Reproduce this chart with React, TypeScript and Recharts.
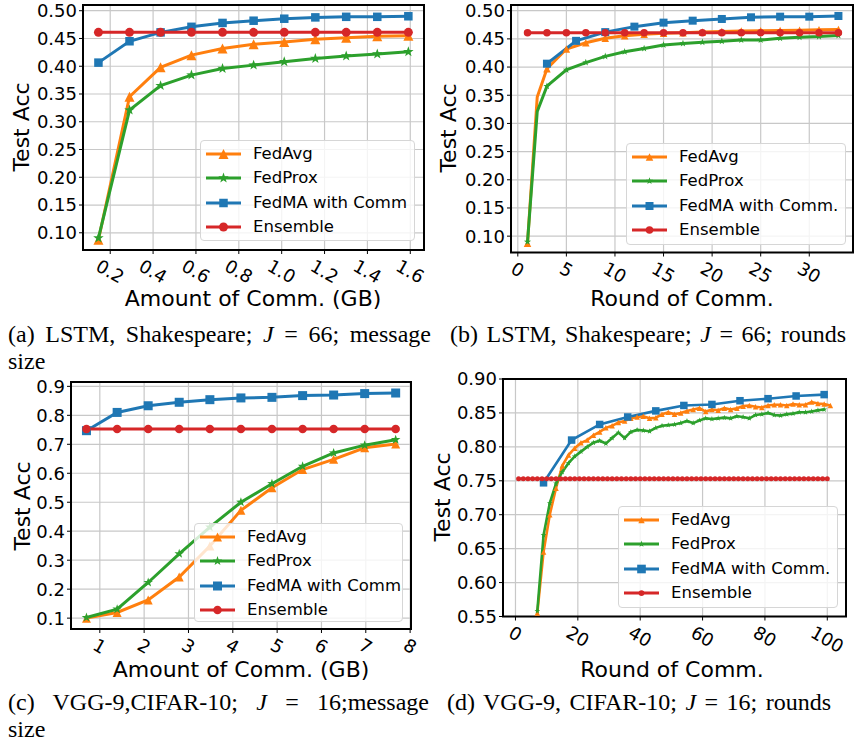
import React from 'react';
import { LineChart, Line, XAxis, YAxis, CartesianGrid, ReferenceArea, Legend } from 'recharts';

// ---------- Panel (a): LSTM, Shakespeare, message size ----------
const commGB_A = [0.145, 0.29, 0.435, 0.579, 0.724, 0.869, 1.012, 1.157, 1.301, 1.446, 1.591];
const fedAvg_A = [0.0875, 0.345, 0.398, 0.42, 0.432, 0.4395, 0.4436, 0.4484, 0.4514, 0.4538, 0.455];
const fedProx_A = [0.0905, 0.321, 0.365, 0.384, 0.396, 0.402, 0.408, 0.414, 0.4185, 0.422, 0.426];
const fedMA_A = [0.4065, 0.445, 0.461, 0.471, 0.478, 0.482, 0.4856, 0.488, 0.489, 0.489, 0.49];
const ensembleAcc_A = 0.461;
const xTicks_A = [0.2, 0.4, 0.6, 0.8, 1.0, 1.2, 1.4, 1.6];
const yTicks_A = [0.1, 0.15, 0.2, 0.25, 0.3, 0.35, 0.4, 0.45, 0.5];

// ---------- Panel (b): LSTM, Shakespeare, rounds ----------
const roundsAvgProx_B = [1, 2, 3, 5, 7, 9, 11, 13, 15, 17, 19, 21, 23, 25, 27, 29, 31, 33];
const fedAvg_B = [0.0875, 0.347, 0.397, 0.432, 0.443, 0.451, 0.4557, 0.458, 0.46, 0.461, 0.462, 0.463, 0.464, 0.4646, 0.465, 0.4655, 0.466, 0.4665];
const fedProx_B = [0.09, 0.321, 0.366, 0.395, 0.408, 0.419, 0.427, 0.433, 0.439, 0.442, 0.444, 0.446, 0.448, 0.448, 0.451, 0.453, 0.454, 0.456];
const roundsMA_B = [3, 6, 9, 12, 15, 18, 21, 24, 27, 30, 33];
const fedMA_B = [0.406, 0.4465, 0.462, 0.4717, 0.4788, 0.4823, 0.4853, 0.4883, 0.4894, 0.4894, 0.4906];
const roundsEns_B = [1, 3, 5, 7, 9, 11, 13, 15, 17, 19, 21, 23, 25, 27, 29, 31, 33];
const ensembleAcc_B = 0.461;
const xTicks_B = [0, 5, 10, 15, 20, 25, 30];
const yTicks_B = [0.1, 0.15, 0.2, 0.25, 0.3, 0.35, 0.4, 0.45, 0.5];

// ---------- Panel (c): VGG-9, CIFAR-10, message size ----------
const commGB_C = [0.699, 1.391, 2.091, 2.791, 3.483, 4.183, 4.883, 5.575, 6.275, 6.975, 7.674];
const fedAvg_C = [0.1, 0.1195, 0.163, 0.242, 0.349, 0.472, 0.55, 0.613, 0.648, 0.688, 0.701];
const fedProx_C = [0.102, 0.131, 0.223, 0.322, 0.414, 0.5, 0.564, 0.624, 0.67, 0.697, 0.716];
const fedMA_C = [0.747, 0.81, 0.833, 0.845, 0.854, 0.86, 0.862, 0.868, 0.87, 0.875, 0.877];
const ensembleAcc_C = 0.753;
const xTicks_C = [1, 2, 3, 4, 5, 6, 7, 8];
const yTicks_C = [0.1, 0.2, 0.3, 0.4, 0.5, 0.6, 0.7, 0.8, 0.9];

// ---------- Panel (d): VGG-9, CIFAR-10, rounds ----------
const roundsAvg_D = [7, 9, 11, 13, 15, 17, 19, 21, 23, 25, 27, 29, 31, 33, 35, 37, 39, 41, 43, 45, 47, 49, 51, 53, 55, 57, 59, 61, 63, 65, 67, 69, 71, 73, 75, 77, 79, 81, 83, 85, 87, 89, 91, 93, 95, 97, 99, 101];
const fedAvg_D = [0.555, 0.645, 0.7, 0.739, 0.772, 0.788, 0.798, 0.806, 0.81, 0.817, 0.822, 0.828, 0.831, 0.836, 0.838, 0.842, 0.844, 0.845, 0.842, 0.843, 0.848, 0.851, 0.848, 0.85, 0.853, 0.855, 0.857, 0.852, 0.855, 0.854, 0.857, 0.855, 0.857, 0.86, 0.861, 0.859, 0.858, 0.861, 0.862, 0.862, 0.861, 0.863, 0.862, 0.862, 0.866, 0.864, 0.863, 0.861];
const roundsProx_D = [7, 9, 11, 13, 15, 17, 19, 21, 23, 25, 27, 29, 31, 33, 35, 37, 39, 41, 43, 45, 47, 49, 51, 53, 55, 57, 59, 61, 63, 65, 67, 69, 71, 73, 75, 77, 79, 81, 83, 85, 87, 89, 91, 93, 95, 97, 99];
const fedProx_D = [0.558, 0.67, 0.717, 0.746, 0.763, 0.776, 0.786, 0.793, 0.8, 0.806, 0.809, 0.805, 0.813, 0.821, 0.813, 0.822, 0.825, 0.824, 0.823, 0.828, 0.831, 0.832, 0.833, 0.835, 0.838, 0.835, 0.839, 0.842, 0.841, 0.842, 0.843, 0.842, 0.845, 0.844, 0.842, 0.847, 0.848, 0.85, 0.847, 0.846, 0.848, 0.849, 0.851, 0.851, 0.852, 0.854, 0.855];
const roundsMA_D = [9, 18, 27, 36, 45, 54, 63, 72, 81, 90, 99];
const fedMA_D = [0.747, 0.81, 0.833, 0.844, 0.853, 0.861, 0.8625, 0.868, 0.871, 0.875, 0.877];
const roundsEns_D = [1, 2.5, 4, 5.5, 7, 8.5, 10, 11.5, 13, 14.5, 16, 17.5, 19, 20.5, 22, 23.5, 25, 26.5, 28, 29.5, 31, 32.5, 34, 35.5, 37, 38.5, 40, 41.5, 43, 44.5, 46, 47.5, 49, 50.5, 52, 53.5, 55, 56.5, 58, 59.5, 61, 62.5, 64, 65.5, 67, 68.5, 70, 71.5, 73, 74.5, 76, 77.5, 79, 80.5, 82, 83.5, 85, 86.5, 88, 89.5, 91, 92.5, 94, 95.5, 97, 98.5, 100];
const ensembleAcc_D = 0.753;
const xTicks_D = [0, 20, 40, 60, 80, 100];
const yTicks_D = [0.55, 0.6, 0.65, 0.7, 0.75, 0.8, 0.85, 0.9];

// ---------- styling ----------
const FONT = '"DejaVu Sans", Verdana, sans-serif';
const SERIF = '"Liberation Serif", "Times New Roman", serif';
const ORANGE = '#ff7f0e';
const GREEN = '#2ca02c';
const BLUE = '#1f77b4';
const RED = '#d62728';

type Shape = 'triangle' | 'star' | 'square' | 'circle';

function Marker({ shape, cx, cy, size, color }: { shape: Shape; cx: number; cy: number; size: number; color: string }) {
  const h = size / 2;
  if (shape === 'circle') return <circle cx={cx} cy={cy} r={h} fill={color} />;
  if (shape === 'square') return <rect x={cx - h} y={cy - h} width={size} height={size} fill={color} />;
  if (shape === 'triangle') {
    return <polygon points={`${cx},${cy - h} ${cx - h},${cy + h} ${cx + h},${cy + h}`} fill={color} />;
  }
  const pts: string[] = [];
  for (let i = 0; i < 10; i++) {
    const a = -Math.PI / 2 + (i * Math.PI) / 5;
    const r = i % 2 === 0 ? h : h * 0.4;
    pts.push(`${cx + r * Math.cos(a)},${cy + r * Math.sin(a)}`);
  }
  return <polygon points={pts.join(' ')} fill={color} />;
}

function zip(xs: number[], ys: number[]) {
  return xs.map((x, i) => ({ x, y: ys[i] }));
}
function flat(xs: number[], v: number) {
  return xs.map((x) => ({ x, y: v }));
}

type Series = {
  name: string;
  data: { x: number; y: number }[];
  color: string;
  shape: Shape;
  size: number;
  lw: number;
  mark?: (x: number) => boolean;
};

type PanelCfg = {
  box: { x: number; y: number; w: number; h: number };
  plot: { l: number; t: number; r: number; b: number };
  xDomain: [number, number];
  yDomain: [number, number];
  xTicks: number[];
  yTicks: number[];
  xFmt: (v: number) => string;
  yFmt: (v: number) => string;
  series: Series[];
  legend: { x: number; y: number; w: number; h: number; sizeScale: number };
};

function tickWidth(label: string) {
  let w = 0;
  for (const ch of label) w += ch === '.' ? 0.318 : 0.636;
  return w * 18 - 2;
}

function XTick(props: any) {
  const { x, y, payload, fmt } = props;
  const label = fmt(payload.value);
  const w = tickWidth(label);
  const bboxH = w * 0.5 + 13 * 0.866;
  const cy = y - 4 + 9 + bboxH / 2;
  return (
    <text
      x={x}
      y={cy}
      textAnchor="middle"
      dominantBaseline="central"
      transform={`rotate(30 ${x} ${cy})`}
      fontSize={18}
      fontFamily={FONT}
      fill="#000"
    >
      {label}
    </text>
  );
}

function LegendBox({ series, w, h, sizeScale }: { series: Series[]; w: number; h: number; sizeScale: number }) {
  return (
    <div
      style={{
        width: w,
        height: h,
        boxSizing: 'border-box',
        border: '1px solid #d6d6d6',
        borderRadius: 4,
        background: 'rgba(255,255,255,0.8)',
        position: 'relative',
        fontFamily: FONT,
        fontSize: 16.5,
        color: '#000',
      }}
    >
      {series.map((s, i) => (
        <div key={s.name} style={{ position: 'absolute', left: 0, top: 13 + i * 24.3 - 12, height: 24, width: '100%' }}>
          <svg width={46} height={24} style={{ position: 'absolute', left: 0, top: 0 }}>
            <line x1={5} x2={40} y1={12} y2={12} stroke={s.color} strokeWidth={3} />
            <Marker shape={s.shape} cx={22.5} cy={12} size={s.size * sizeScale} color={s.color} />
          </svg>
          <span style={{ position: 'absolute', left: 52, top: 0, lineHeight: '24px', whiteSpace: 'nowrap' }}>{s.name}</span>
        </div>
      ))}
    </div>
  );
}

function Panel({ cfg }: { cfg: PanelCfg }) {
  const { box, plot } = cfg;
  const yAxisW = plot.l - box.x;
  const xAxisH = box.y + box.h - plot.b;
  const margin = { top: plot.t - box.y, right: box.x + box.w - plot.r, left: 0, bottom: 0 };
  return (
    <div style={{ position: 'absolute', left: box.x, top: box.y, width: box.w, height: box.h }}>
      <LineChart width={box.w} height={box.h} margin={margin}>
        <CartesianGrid stroke="#c8c8c8" strokeWidth={1.2} />
        <XAxis
          type="number"
          dataKey="x"
          domain={cfg.xDomain}
          allowDataOverflow
          ticks={cfg.xTicks}
          interval={0}
          height={xAxisH}
          axisLine={false}
          tickLine={{ stroke: '#000' }}
          tickSize={4}
          tickMargin={0}
          tick={(p: any) => <XTick {...p} fmt={cfg.xFmt} />}
        />
        <YAxis
          type="number"
          domain={cfg.yDomain}
          allowDataOverflow
          ticks={cfg.yTicks}
          interval={0}
          width={yAxisW}
          axisLine={false}
          tickLine={{ stroke: '#000' }}
          tickSize={4}
          tickMargin={2}
          tickFormatter={cfg.yFmt}
          tick={{ fontSize: 18, fill: '#000', fontFamily: FONT }}
        />
        {cfg.series.map((s) => (
          <Line
            key={s.name}
            name={s.name}
            data={s.data}
            dataKey="y"
            type="linear"
            stroke={s.color}
            strokeWidth={s.lw}
            isAnimationActive={false}
            activeDot={false}
            dot={(p: any) => {
              if (s.mark && !s.mark(p.payload.x)) return <g key={p.key ?? p.index} />;
              return (
                <g key={p.key ?? p.index}>
                  <Marker shape={s.shape} cx={p.cx} cy={p.cy} size={s.size} color={s.color} />
                </g>
              );
            }}
          />
        ))}
        <ReferenceArea
          x1={cfg.xDomain[0]}
          x2={cfg.xDomain[1]}
          y1={cfg.yDomain[0]}
          y2={cfg.yDomain[1]}
          fill="none"
          stroke="#000"
          strokeWidth={2}
          ifOverflow="visible"
        />
        <Legend
          layout="horizontal"
          verticalAlign="middle"
          align="center"
          wrapperStyle={{
            left: cfg.legend.x - box.x,
            top: cfg.legend.y - box.y,
            width: cfg.legend.w,
            height: cfg.legend.h,
            margin: 0,
            padding: 0,
          }}
          content={() => (
            <LegendBox series={cfg.series} w={cfg.legend.w} h={cfg.legend.h} sizeScale={cfg.legend.sizeScale} />
          )}
        />
      </LineChart>
    </div>
  );
}

const f1 = (v: number) => v.toFixed(1);
const f2 = (v: number) => v.toFixed(2);
const f0 = (v: number) => String(v);

const odd = (x: number) => x % 2 === 1;

const panelA: PanelCfg = {
  box: { x: 0, y: 0, w: 430, h: 320 },
  plot: { l: 83, t: 5, r: 424, b: 250 },
  xDomain: [0.073, 1.664],
  yDomain: [0.069, 0.5103],
  xTicks: xTicks_A,
  yTicks: yTicks_A,
  xFmt: f1,
  yFmt: f2,
  series: [
    { name: 'FedAvg', data: zip(commGB_A, fedAvg_A), color: ORANGE, shape: 'triangle', size: 10, lw: 3 },
    { name: 'FedProx', data: zip(commGB_A, fedProx_A), color: GREEN, shape: 'star', size: 11, lw: 3 },
    { name: 'FedMA with Comm', data: zip(commGB_A, fedMA_A), color: BLUE, shape: 'square', size: 8.5, lw: 3 },
    { name: 'Ensemble', data: flat(commGB_A, ensembleAcc_A), color: RED, shape: 'circle', size: 9, lw: 3 },
  ],
  legend: { x: 200, y: 140, w: 215, h: 101, sizeScale: 1 },
};

const panelB: PanelCfg = {
  box: { x: 430, y: 0, w: 424, h: 320 },
  plot: { l: 511, t: 5, r: 853, b: 252.5 },
  xDomain: [-0.7, 34.5],
  yDomain: [0.071, 0.5101],
  xTicks: xTicks_B,
  yTicks: yTicks_B,
  xFmt: f0,
  yFmt: f2,
  series: [
    { name: 'FedAvg', data: zip(roundsAvgProx_B, fedAvg_B), color: ORANGE, shape: 'triangle', size: 7.5, lw: 3, mark: odd },
    { name: 'FedProx', data: zip(roundsAvgProx_B, fedProx_B), color: GREEN, shape: 'star', size: 7.5, lw: 3, mark: odd },
    { name: 'FedMA with Comm.', data: zip(roundsMA_B, fedMA_B), color: BLUE, shape: 'square', size: 8, lw: 3 },
    { name: 'Ensemble', data: flat(roundsEns_B, ensembleAcc_B), color: RED, shape: 'circle', size: 7.5, lw: 3 },
  ],
  legend: { x: 626, y: 143, w: 220, h: 102, sizeScale: 1 },
};

const panelC: PanelCfg = {
  box: { x: 0, y: 355, w: 430, h: 335 },
  plot: { l: 71, t: 382, r: 411, b: 629 },
  xDomain: [0.35, 8.02],
  yDomain: [0.0625, 0.915],
  xTicks: xTicks_C,
  yTicks: yTicks_C,
  xFmt: f0,
  yFmt: f1,
  series: [
    { name: 'FedAvg', data: zip(commGB_C, fedAvg_C), color: ORANGE, shape: 'triangle', size: 9, lw: 3 },
    { name: 'FedProx', data: zip(commGB_C, fedProx_C), color: GREEN, shape: 'star', size: 10, lw: 3 },
    { name: 'FedMA with Comm', data: zip(commGB_C, fedMA_C), color: BLUE, shape: 'square', size: 9, lw: 3 },
    { name: 'Ensemble', data: flat(commGB_C, ensembleAcc_C), color: RED, shape: 'circle', size: 8.5, lw: 3 },
  ],
  legend: { x: 194, y: 523, w: 209, h: 99, sizeScale: 1 },
};

const panelD: PanelCfg = {
  box: { x: 430, y: 355, w: 424, h: 335 },
  plot: { l: 503, t: 379, r: 846, b: 616.5 },
  xDomain: [-4, 106],
  yDomain: [0.55, 0.9],
  xTicks: xTicks_D,
  yTicks: yTicks_D,
  xFmt: f0,
  yFmt: f2,
  series: [
    { name: 'FedAvg', data: zip(roundsAvg_D, fedAvg_D), color: ORANGE, shape: 'triangle', size: 5.5, lw: 2.6 },
    { name: 'FedProx', data: zip(roundsProx_D, fedProx_D), color: GREEN, shape: 'star', size: 6, lw: 2.6 },
    { name: 'FedMA with Comm.', data: zip(roundsMA_D, fedMA_D), color: BLUE, shape: 'square', size: 7.5, lw: 2.6 },
    { name: 'Ensemble', data: flat(roundsEns_D, ensembleAcc_D), color: RED, shape: 'circle', size: 5, lw: 2.6 },
  ],
  legend: { x: 618, y: 506, w: 220, h: 102, sizeScale: 1.15 },
};

function AxisTitle({ text, cx, cy, rotate }: { text: string; cx: number; cy: number; rotate?: boolean }) {
  return (
    <div
      style={{
        position: 'absolute',
        left: cx,
        top: cy,
        transform: `translate(-50%, -50%)${rotate ? ' rotate(-90deg)' : ''}`,
        fontFamily: FONT,
        fontSize: 22,
        whiteSpace: 'nowrap',
        color: '#000',
      }}
    >
      {text}
    </div>
  );
}

function Caption({ left, top, width, line1, line2 }: { left: number; top: number; width: number; line1: React.ReactNode; line2?: string }) {
  return (
    <div style={{ position: 'absolute', left, top, width, fontFamily: SERIF, fontSize: 24, lineHeight: '27px', color: '#000' }}>
      <div style={{ textAlign: 'justify', textAlignLast: 'justify' as any, whiteSpace: 'normal' }}>{line1}</div>
      {line2 ? <div>{line2}</div> : null}
    </div>
  );
}

export default function App() {
  return (
    <div style={{ position: 'absolute', left: 0, top: 0, width: 854, height: 744, background: '#fff', overflow: 'hidden' }}>
      <Panel cfg={panelA} />
      <Panel cfg={panelB} />
      <Panel cfg={panelC} />
      <Panel cfg={panelD} />

      <AxisTitle text="Test Acc" cx={21} cy={127} rotate />
      <AxisTitle text="Amount of Comm. (GB)" cx={253} cy={298} />
      <AxisTitle text="Test Acc" cx={448} cy={128} rotate />
      <AxisTitle text="Round of Comm." cx={682} cy={298} />
      <AxisTitle text="Test Acc" cx={22} cy={506} rotate />
      <AxisTitle text="Amount of Comm. (GB)" cx={241} cy={669} />
      <AxisTitle text="Test Acc" cx={442} cy={497} rotate />
      <AxisTitle text="Round of Comm." cx={672} cy={669} />

      <Caption
        left={8}
        top={321}
        width={423}
        line1={<>(a) LSTM, Shakespeare; <i>J</i> = 66; message</>}
        line2="size"
      />
      <Caption left={450} top={321} width={396} line1={<>(b) LSTM, Shakespeare; <i>J</i> = 66; rounds</>} />
      <Caption
        left={8}
        top={689}
        width={421}
        line1={<>(c) VGG-9,CIFAR-10; <i>J</i> = 16;message</>}
        line2="size"
      />
      <Caption left={447} top={689} width={384} line1={<>(d) VGG-9, CIFAR-10; <i>J</i> = 16; rounds</>} />
    </div>
  );
}
